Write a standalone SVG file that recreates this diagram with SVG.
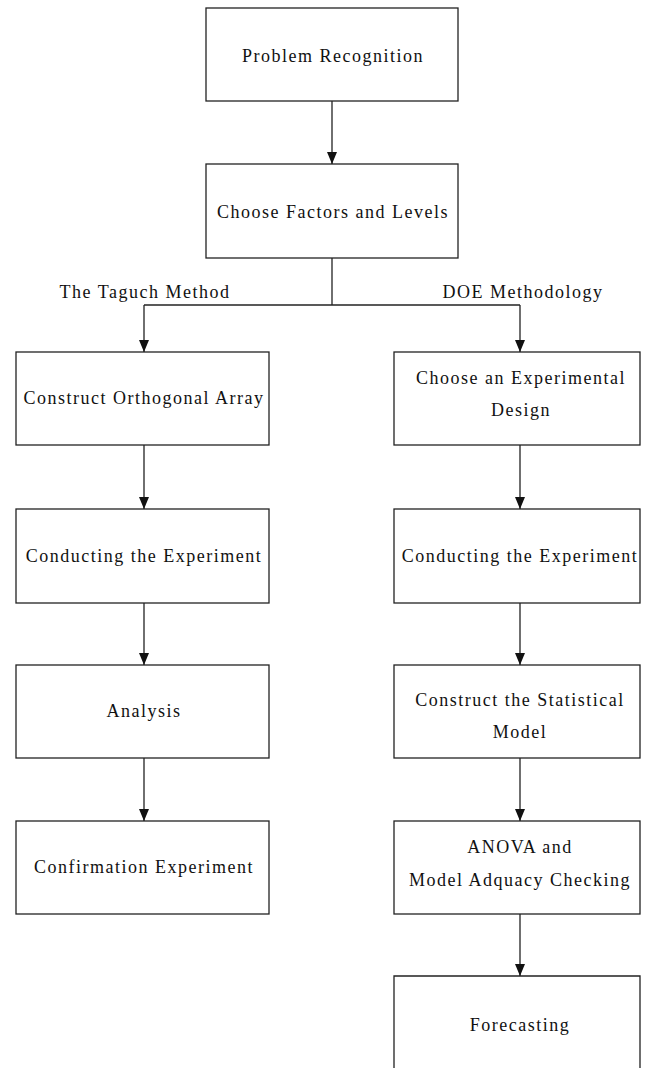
<svg xmlns="http://www.w3.org/2000/svg" width="647" height="1068" viewBox="0 0 647 1068">
<defs>
<marker id="ah" viewBox="0 0 12 10" refX="12" refY="5" markerWidth="12" markerHeight="10" markerUnits="userSpaceOnUse" orient="auto">
<path d="M0,0 L12,5 L0,10 Z" fill="#111"/>
</marker>
</defs>
<style>
.b{fill:#fff;stroke:#222;stroke-width:1.3}
.t{font-family:"Liberation Serif","Times New Roman",serif;font-size:18px;letter-spacing:1.5px;fill:#111;text-anchor:middle}
.c{fill:none;stroke:#222;stroke-width:1.3}
</style>
<rect width="647" height="1068" fill="#fff"/>
<g id="n1"><rect class="b" x="206" y="8" width="252" height="93"/><text class="t" x="333" y="62">Problem Recognition</text></g>
<g id="n2"><rect class="b" x="206" y="164" width="252" height="94"/><text class="t" x="333" y="218">Choose Factors and Levels</text></g>
<g id="lbl">
<text class="t" x="145" y="298">The Taguch Method</text>
<text class="t" x="523" y="298">DOE Methodology</text>
</g>
<g id="l1"><rect class="b" x="16" y="352" width="253" height="93"/><text class="t" x="144" y="404">Construct Orthogonal Array</text></g>
<g id="l2"><rect class="b" x="16" y="509" width="253" height="94"/><text class="t" x="144" y="562">Conducting the Experiment</text></g>
<g id="l3"><rect class="b" x="16" y="665" width="253" height="93"/><text class="t" x="144" y="717">Analysis</text></g>
<g id="l4"><rect class="b" x="16" y="821" width="253" height="93"/><text class="t" x="144" y="873">Confirmation Experiment</text></g>
<g id="r1"><rect class="b" x="394" y="352" width="246" height="93"/><text class="t" x="521" y="384">Choose an Experimental</text><text class="t" x="521" y="416">Design</text></g>
<g id="r2"><rect class="b" x="394" y="509" width="246" height="94"/><text class="t" x="520" y="562">Conducting the Experiment</text></g>
<g id="r3"><rect class="b" x="394" y="665" width="246" height="93"/><text class="t" x="520" y="706">Construct the Statistical</text><text class="t" x="520" y="738">Model</text></g>
<g id="r4"><rect class="b" x="394" y="821" width="246" height="93"/><text class="t" x="520" y="853">ANOVA and</text><text class="t" x="520" y="886">Model Adquacy Checking</text></g>
<g id="r5"><path class="b" d="M394,1069 V976 H640 V1069"/><text class="t" x="520" y="1031">Forecasting</text></g>
<g id="connectors">
<line class="c" x1="332" y1="101" x2="332" y2="164" marker-end="url(#ah)"/>
<line class="c" x1="332" y1="258" x2="332" y2="305"/>
<polyline class="c" points="144,305 520,305"/>
<line class="c" x1="144" y1="305" x2="144" y2="352" marker-end="url(#ah)"/>
<line class="c" x1="520" y1="305" x2="520" y2="352" marker-end="url(#ah)"/>
<line class="c" x1="144" y1="445" x2="144" y2="509" marker-end="url(#ah)"/>
<line class="c" x1="144" y1="603" x2="144" y2="665" marker-end="url(#ah)"/>
<line class="c" x1="144" y1="758" x2="144" y2="821" marker-end="url(#ah)"/>
<line class="c" x1="520" y1="445" x2="520" y2="509" marker-end="url(#ah)"/>
<line class="c" x1="520" y1="603" x2="520" y2="665" marker-end="url(#ah)"/>
<line class="c" x1="520" y1="758" x2="520" y2="821" marker-end="url(#ah)"/>
<line class="c" x1="520" y1="914" x2="520" y2="976" marker-end="url(#ah)"/>
</g>
</svg>
